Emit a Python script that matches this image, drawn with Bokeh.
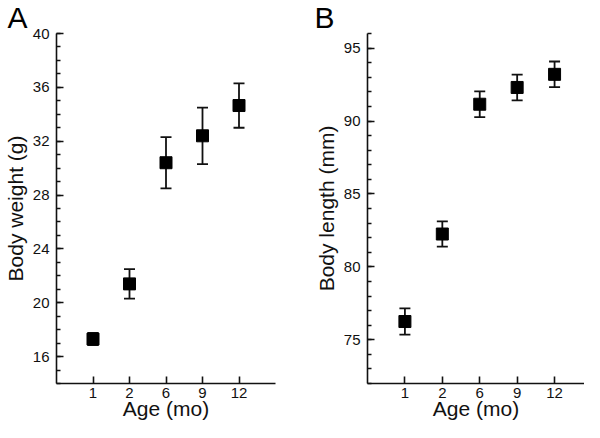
from bokeh.plotting import figure
from bokeh.layouts import row
from bokeh.models import (ColumnDataSource, Range1d, FixedTicker, Whisker, TeeHead, Label)
from bokeh.embed import file_html
from bokeh.resources import INLINE

# ---- data ----
ages = ["1", "2", "6", "9", "12"]
weight_mean = [17.3, 21.4, 30.4, 32.4, 34.65]
weight_err = [0.45, 1.1, 1.9, 2.1, 1.65]
length_mean = [76.25, 82.25, 91.15, 92.3, 93.2]
length_err = [0.9, 0.87, 0.88, 0.88, 0.88]
weight_major = [16, 20, 24, 28, 32, 36, 40]
weight_minor = list(range(14, 41))
length_major = [75, 80, 85, 90, 95]
length_minor = list(range(72, 97))

FONT = "Liberation Sans"
INK = "#111111"


def make_panel(letter, means, errs, ylab, yr, ymaj, ymin, width, height,
               bl, br, bt, bb, xmax, letter_dx):
    pos = [i + 1 for i in range(len(ages))]
    src = ColumnDataSource(dict(x=pos, y=means,
                                upper=[m + e for m, e in zip(means, errs)],
                                lower=[m - e for m, e in zip(means, errs)]))
    p = figure(width=width, height=height, output_backend="svg", toolbar_location=None,
               x_range=Range1d(0, xmax), y_range=Range1d(*yr),
               min_border_left=bl, min_border_right=br, min_border_top=bt,
               min_border_bottom=bb)
    p.outline_line_color = None
    p.grid.visible = False
    p.background_fill_color = "white"
    p.border_fill_color = "white"

    w = Whisker(base="x", upper="upper", lower="lower", source=src,
                line_color=INK, line_width=1.8,
                upper_head=TeeHead(size=11, line_color=INK, line_width=1.8),
                lower_head=TeeHead(size=11, line_color=INK, line_width=1.8))
    p.add_layout(w)
    p.scatter("x", "y", source=src, marker="square", size=12,
              fill_color="black", line_color="black")

    for ax in (p.xaxis[0], p.yaxis[0]):
        ax.axis_line_color = INK
        ax.axis_line_width = 1.6
        ax.major_tick_line_color = INK
        ax.major_tick_line_width = 1.6
        ax.minor_tick_line_color = INK
        ax.minor_tick_line_width = 1.3
        ax.major_tick_out = 0
        ax.major_tick_in = 7
        ax.minor_tick_out = 0
        ax.minor_tick_in = 4
        ax.major_label_text_font = FONT
        ax.major_label_text_font_size = "15px"
        ax.major_label_text_color = INK
        ax.axis_label_text_font = FONT
        ax.axis_label_text_font_size = "21px"
        ax.axis_label_text_font_style = "normal"
        ax.axis_label_text_color = INK

    p.xaxis.ticker = FixedTicker(ticks=pos)
    p.xaxis.major_label_overrides = {x: a for x, a in zip(pos, ages)}
    p.xaxis.axis_label = "Age (mo)"
    p.xaxis.major_label_standoff = 4
    p.xaxis.axis_label_standoff = -4
    p.xaxis.major_label_text_line_height = 1.0
    p.xaxis.axis_label_text_line_height = 1.0

    p.yaxis.ticker = FixedTicker(ticks=ymaj, minor_ticks=ymin)
    p.yaxis.axis_label = ylab
    p.yaxis.major_label_standoff = 7
    p.yaxis.axis_label_standoff = 3

    p.add_layout(Label(x=letter_dx - bl, y=0, x_units="screen", y_units="screen",
                       text=letter, text_font=FONT, text_font_size="30px",
                       text_color="black", text_baseline="bottom",
                       text_align="left"), "above")
    return p


pA = make_panel("A", weight_mean, weight_err, "Body weight (g)", (14, 40),
                weight_major, weight_minor, 310, 422, 49, 35, 23, 39, 6, 0)
pB = make_panel("B", length_mean, length_err, "Body length (mm)", (72, 96),
                length_major, length_minor, 274, 422, 57, 0, 21, 39, 5.8, 4)

layout = row(pA, pB)
open("out.html", "w").write(file_html(layout, INLINE))
